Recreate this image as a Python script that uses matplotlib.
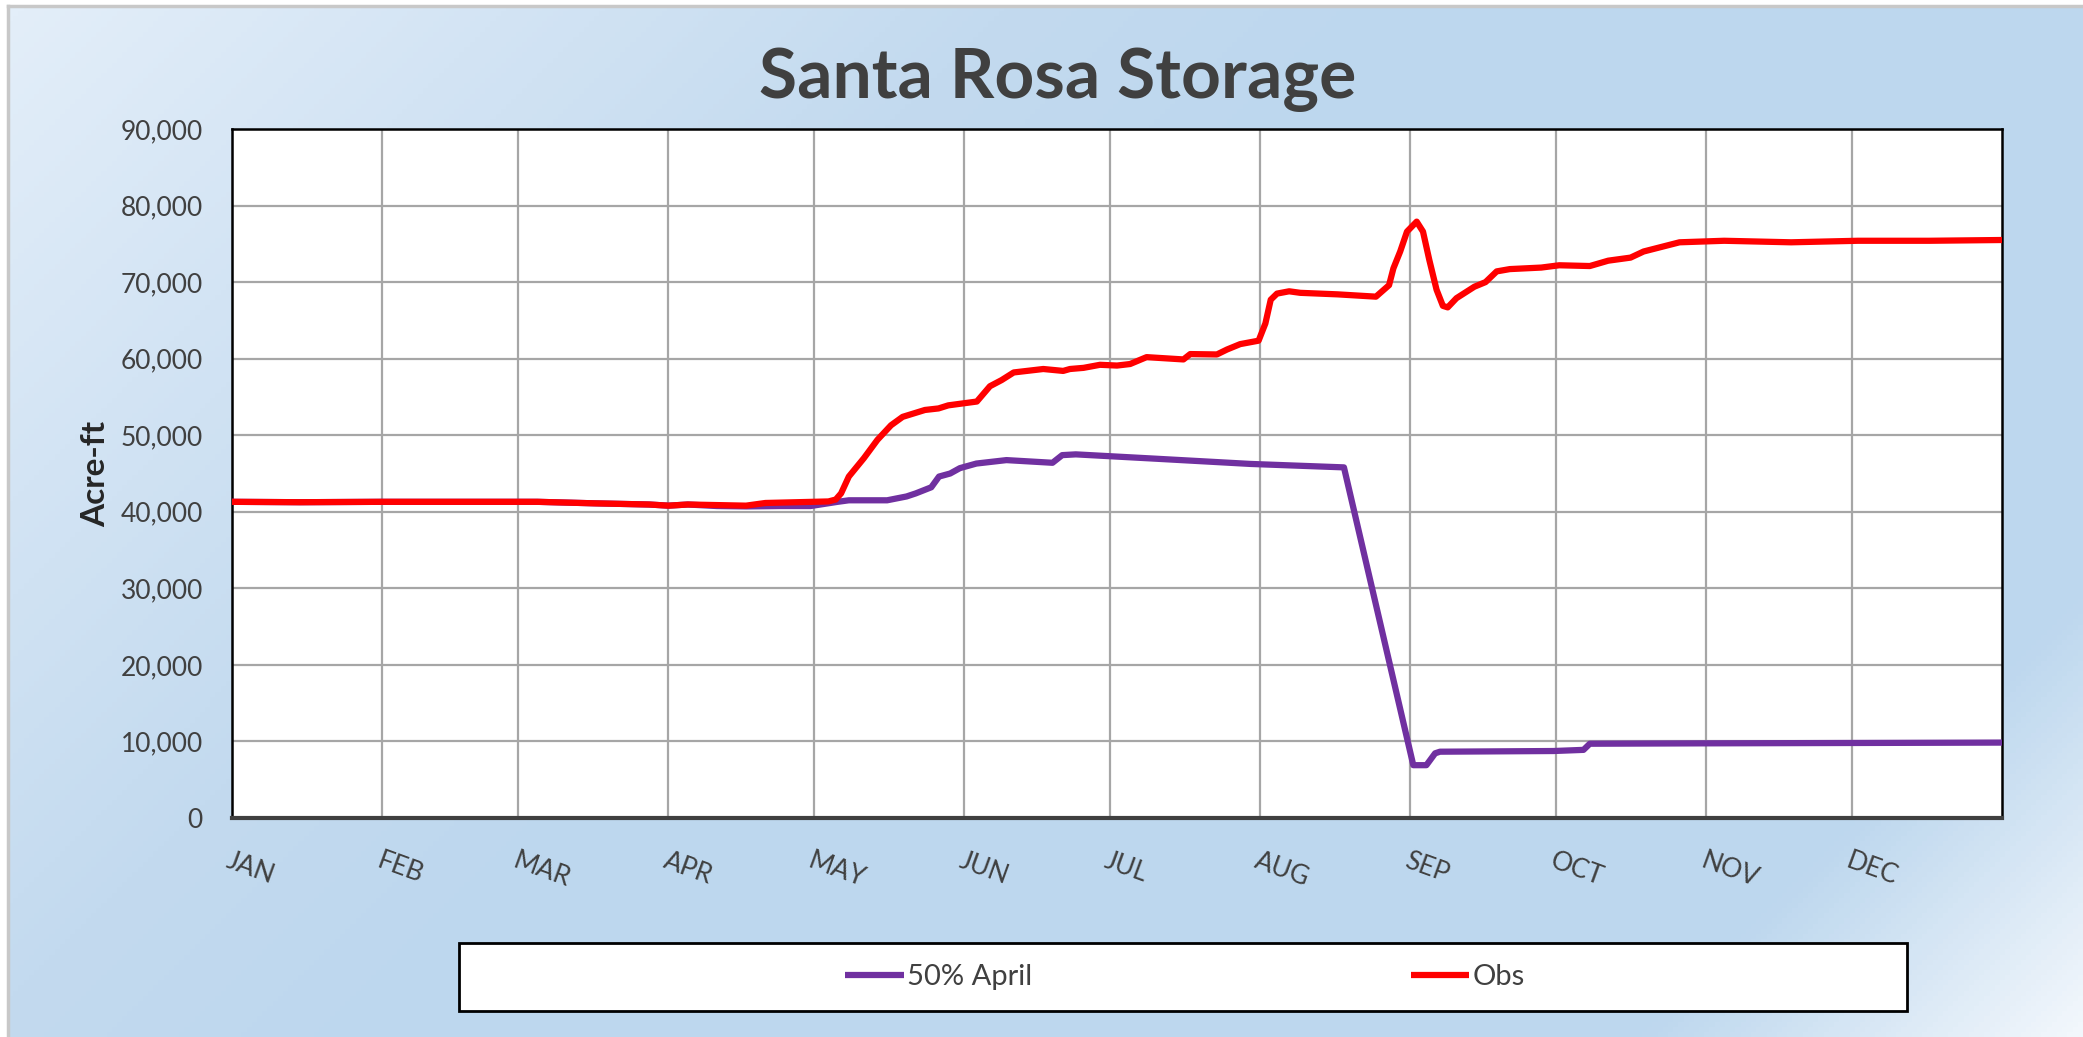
import numpy as np
import matplotlib
matplotlib.use('Agg')
import matplotlib.pyplot as plt
from matplotlib.colors import LinearSegmentedColormap
from matplotlib.patches import Rectangle
from matplotlib.ticker import FuncFormatter

plt.rcParams['font.family'] = ['Lato', 'DejaVu Sans']

# Month labels and day-of-year where each month starts
months = ['JAN', 'FEB', 'MAR', 'APR', 'MAY', 'JUN', 'JUL', 'AUG', 'SEP', 'OCT', 'NOV', 'DEC']
month_start = [0, 31, 59, 90, 120, 151, 181, 212, 243, 273, 304, 334]

obs_day = [0, 14, 31, 47, 63, 75, 86, 90, 94, 106, 110, 123, 124.5, 125.6, 127.2,
           130.3, 133.1, 135.9, 138.3, 142.9, 145.7, 147.7, 153.6, 156.3, 158.7,
           161.2, 167.3, 171.4, 172.8, 175.6, 179, 182.5, 185.2, 188.6, 196.2,
           197.6, 203.1, 205.2, 207.9, 211.7, 213.1, 214.2, 215.5, 218, 220.3,
           228, 235.9, 238.6, 239.5, 240.9, 242.3, 244.3, 245.6, 246.9, 248.4,
           249.7, 250.7, 252.5, 256.2, 258.5, 260.8, 263.5, 270, 273.7, 280,
           283.8, 288.4, 291.1, 294.8, 298.5, 307.7, 321.5, 335.3, 350, 365]
obs_val = [41300, 41250, 41300, 41300, 41300, 41100, 40950, 40800, 40950, 40800,
           41150, 41350, 41600, 42400, 44600, 47000, 49400, 51300, 52400, 53300,
           53500, 53900, 54400, 56400, 57200, 58200, 58650, 58400, 58650, 58800,
           59200, 59100, 59300, 60200, 59900, 60600, 60550, 61200, 61900, 62350,
           64600, 67700, 68500, 68800, 68600, 68400, 68100, 69600, 71800, 74000,
           76600, 77900, 76600, 72900, 69000, 66900, 66700, 67900, 69400, 70000,
           71400, 71700, 71900, 72200, 72100, 72800, 73200, 74000, 74600, 75200,
           75400, 75200, 75400, 75400, 75500]

# 50% April forecast storage
apr_day = [0, 14, 31, 47, 63, 75, 86, 90, 94, 100, 106, 113, 119.3, 124.9, 127.2,
           135.1, 139.1, 141.0, 144.2, 145.8, 148.1, 150.1, 153.5, 159.7, 169.2,
           171.2, 174, 190, 210, 229.3, 243.6, 246.3, 248.1, 249.1, 272.5, 278.7,
           280, 302.7, 335, 365]
apr_val = [41300, 41250, 41300, 41300, 41300, 41100, 40950, 40800, 40950, 40750,
           40700, 40750, 40750, 41300, 41500, 41500, 42000, 42400, 43200, 44600,
           45000, 45700, 46300, 46750, 46400, 47400, 47500, 46950, 46250, 45800,
           6900, 6900, 8450, 8660, 8750, 8900, 9700, 9750, 9800, 9850]

W, H = 2083, 1037
fig = plt.figure(figsize=(W / 100, H / 100), dpi=100)
fig.patch.set_facecolor('white')

# gradient background
bg = fig.add_axes([8 / W, 0, 1 - 8 / W, 1 - 6 / H])
gx, gy = np.meshgrid(np.linspace(0, 1, 400), np.linspace(0, 1, 200))
t = (gx * W + gy * H) / (W + H)
cmap = LinearSegmentedColormap.from_list(
    'bg', [(0, '#e3eef9'), (0.32, '#c3daef'), (0.45, '#bdd7ee'),
           (0.86, '#bdd7ee'), (1.0, '#f2f7fc')])
bg.imshow(t, cmap=cmap, aspect='auto', extent=[0, 1, 0, 1], origin='upper',
          vmin=0, vmax=1)
bg.set_xticks([])
bg.set_yticks([])
for s in ['bottom', 'right']:
    bg.spines[s].set_visible(False)
for s in ['top', 'left']:
    bg.spines[s].set_color('#c8c8c8')
    bg.spines[s].set_linewidth(2.5)

ax = fig.add_axes([232 / W, 1 - 818 / H, (2002 - 232) / W, (818 - 129) / H])
ax.set_facecolor('white')

ax.plot(apr_day, apr_val, color='#7030A0', lw=4.5, label='50% April',
        solid_joinstyle='round', solid_capstyle='butt', zorder=3)
ax.plot(obs_day, obs_val, color='#FF0000', lw=4.5, label='Obs',
        solid_joinstyle='round', solid_capstyle='butt', zorder=4)

ax.set_xlim(0, 365)
ax.set_ylim(0, 90000)
ax.set_yticks(np.arange(0, 90001, 10000))
ax.yaxis.set_major_formatter(FuncFormatter(lambda v, p: f'{int(v):,}'))
ax.set_xticks(month_start)
ax.set_xticklabels(months, rotation=-20, ha='left', rotation_mode='anchor')
ax.tick_params(axis='both', length=0, labelsize=19, labelcolor='#404040')
ax.tick_params(axis='y', pad=21)
ax.tick_params(axis='x', pad=22)
ax.grid(True, color='#a6a6a6', lw=1.6)
ax.set_axisbelow(True)
for s in ['left', 'top', 'right']:
    ax.spines[s].set_color('black')
    ax.spines[s].set_linewidth(1.8)
ax.spines['bottom'].set_color('#404040')
ax.spines['bottom'].set_linewidth(3)

fig.text(96 / W, 1 - 474 / H, 'Acre-ft', fontsize=24, fontweight='bold',
         color='#262626', rotation=90, ha='center', va='center')

fig.text(0.508, 1 - 80 / H, 'Santa Rosa Storage', fontsize=50, fontweight='bold',
         color='#404040', ha='center', va='center')

# legend box
fig.patches.append(Rectangle((459 / W, 1 - 1011 / H), (1907 - 459) / W, (1011 - 943) / H,
                             transform=fig.transFigure, facecolor='white',
                             edgecolor='black', lw=2, zorder=5))
leg = fig.legend(loc='center', bbox_to_anchor=(1185 / W, 1 - 977 / H), ncol=2,
                 frameon=False, fontsize=21, handlelength=2.0, handletextpad=0.1,
                 columnspacing=13.0, borderaxespad=0)
leg.set_zorder(6)
for txt in leg.get_texts():
    txt.set_color('#404040')

fig.savefig('out.png', dpi=100)
